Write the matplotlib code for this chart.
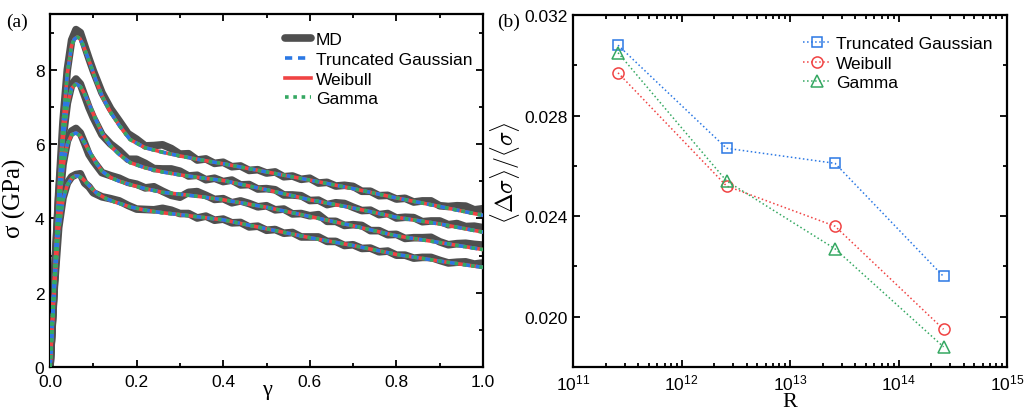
import numpy as np
import matplotlib
matplotlib.use('Agg')
import matplotlib.pyplot as plt
from matplotlib.ticker import MultipleLocator, FormatStrFormatter, LogLocator, NullFormatter

plt.rcParams['font.family'] = ['Liberation Sans', 'DejaVu Sans']
plt.rcParams['mathtext.fontset'] = 'cm'

# ---------------- panel (a) data ----------------
gamma_md = np.round(np.r_[np.arange(0, 0.1, 0.01), np.arange(0.1, 1.001, 0.02)], 3)

md1 = [0, 2.35, 4.65, 6.6, 8.0, 8.8, 9.08, 9.0, 8.65, 8.3,
       7.97, 7.38, 6.95, 6.62, 6.28, 6.13, 5.95, 5.96, 5.98, 5.88, 5.73, 5.74, 5.57, 5.6, 5.48,
       5.51, 5.39, 5.41, 5.29, 5.31, 5.22, 5.25, 5.12, 5.14, 5.05, 5.08, 4.95, 4.97, 4.87, 4.89,
       4.86, 4.73, 4.73, 4.61, 4.62, 4.52, 4.54, 4.44, 4.47, 4.47, 4.34, 4.32, 4.34, 4.33, 4.23, 4.26]
md2 = [0, 2.35, 4.55, 6.15, 7.1, 7.6, 7.75, 7.62, 7.3, 6.98,
       6.71, 6.25, 6.0, 5.82, 5.59, 5.59, 5.48, 5.34, 5.33, 5.33, 5.27, 5.14, 5.16, 5.04, 5.08,
       4.99, 5.03, 4.9, 4.91, 4.79, 4.8, 4.77, 4.63, 4.63, 4.61, 4.48, 4.49, 4.37, 4.42, 4.4,
       4.3, 4.21, 4.22, 4.1, 4.13, 4.01, 4.03, 4.02, 3.91, 3.93, 3.93, 3.83, 3.86, 3.78, 3.79, 3.75]
md3 = [0, 2.25, 4.25, 5.45, 6.08, 6.35, 6.42, 6.3, 6.02, 5.72,
       5.54, 5.23, 5.15, 5.08, 4.97, 4.92, 4.82, 4.85, 4.73, 4.62, 4.57, 4.7, 4.72, 4.62, 4.51,
       4.53, 4.42, 4.47, 4.4, 4.31, 4.34, 4.23, 4.25, 4.12, 4.13, 4.07, 4.1, 3.92, 3.92, 3.81,
       3.83, 3.81, 3.67, 3.67, 3.56, 3.57, 3.46, 3.48, 3.48, 3.49, 3.37, 3.29, 3.32, 3.33, 3.3, 3.28]
md4 = [0, 2.15, 3.75, 4.55, 4.95, 5.12, 5.18, 5.2, 4.95, 4.85,
       4.69, 4.58, 4.53, 4.47, 4.35, 4.25, 4.24, 4.23, 4.27, 4.22, 4.13, 4.13, 4.01, 4.06, 3.95,
       3.98, 3.88, 3.89, 3.77, 3.79, 3.68, 3.7, 3.6, 3.62, 3.5, 3.5, 3.5, 3.38, 3.38, 3.27,
       3.29, 3.19, 3.2, 3.1, 3.12, 3.01, 3.01, 2.93, 2.95, 2.95, 2.87, 2.8, 2.82, 2.83, 2.77, 2.8]

fit1_x = [0, .01, .02, .03, .04, .05, .056, .063, .069, .075, .09, .105, .12, .14, .16, .185,
          .22, .26, .3, .35, .4, .5, .6, .7, .8, .9, 1.0]
fit1_y = [0, 2.3, 4.6, 6.5, 7.9, 8.65, 8.82, 8.88, 8.84, 8.7, 8.25, 7.75, 7.3, 6.85, 6.5, 6.12,
          5.9, 5.78, 5.68, 5.57, 5.47, 5.25, 5.03, 4.8, 4.55, 4.32, 4.08]
fit23_x = [0, .01, .02, .03, .04, .05, .06, .07, .08, .09, .105, .12, .14, .16, .185, .22, .26,
           .3, .35, .4, .5, .6, .7, .8, .9, 1.0]
fit2_y = [0, 2.3, 4.5, 6.1, 7.05, 7.5, 7.62, 7.55, 7.35, 7.08, 6.68, 6.3, 5.95, 5.72, 5.5, 5.36,
          5.25, 5.17, 5.09, 5.02, 4.77, 4.5, 4.28, 4.03, 3.85, 3.63]
fit3_y = [0, 2.2, 4.2, 5.4, 6.0, 6.25, 6.3, 6.22, 6.03, 5.82, 5.52, 5.27, 5.1, 5.0, 4.91, 4.8,
          4.7, 4.65, 4.58, 4.5, 4.3, 4.05, 3.8, 3.53, 3.35, 3.16]
fit4_x = [0, .01, .02, .03, .04, .05, .058, .066, .075, .085, .095, .11, .13, .15, .185, .22,
          .26, .3, .35, .4, .5, .6, .7, .8, .9, 1.0]
fit4_y = [0, 2.1, 3.7, 4.5, 4.9, 5.08, 5.14, 5.14, 5.07, 4.95, 4.82, 4.66, 4.53, 4.44, 4.31,
          4.22, 4.15, 4.1, 4.03, 3.96, 3.72, 3.48, 3.27, 3.03, 2.85, 2.68]

# ---------------- panel (b) data ----------------
R = [2.6e11, 2.6e12, 2.6e13, 2.6e14]
ratio_tg = [0.0308, 0.0267, 0.0261, 0.0216]
ratio_wb = [0.0297, 0.0252, 0.0236, 0.0195]
ratio_gm = [0.0305, 0.0254, 0.0227, 0.0188]

labels = ['Truncated Gaussian', 'Weibull', 'Gamma']
c_blue, c_red, c_green, c_md = '#2b78e4', '#f04343', '#35a862', '#4f4f4f'

FS = 12.5
SERIF = ['Liberation Serif', 'DejaVu Serif']

fig = plt.figure(figsize=(10.24, 4.10), dpi=100)
ax1 = fig.add_axes([50 / 1024, 42 / 410, 433 / 1024, 353 / 410])
ax2 = fig.add_axes([573 / 1024, 42 / 410, 434 / 1024, 352 / 410])

# ---- (a)
md_sets = [md1, md2, md3, md4]
fits = [(fit1_x, fit1_y), (fit23_x, fit2_y), (fit23_x, fit3_y), (fit4_x, fit4_y)]
for k, md in enumerate(md_sets):
    ax1.plot(gamma_md, md, color=c_md, lw=5.5, solid_capstyle='round', solid_joinstyle='round',
             zorder=2, label='MD' if k == 0 else None)
for k, (fx, fy) in enumerate(fits):
    ax1.plot(fx, fy, color=c_red, lw=2.6, ls='-', zorder=3, label='Weibull' if k == 0 else None)
    ax1.plot(fx, fy, color=c_blue, lw=2.6, ls=(0, (2.0, 1.6)), zorder=4,
             label='Truncated Gaussian' if k == 0 else None)
    ax1.plot(fx, fy, color=c_green, lw=2.6, ls=(0, (1.0, 1.3)), zorder=5,
             label='Gamma' if k == 0 else None)

ax1.set_xlim(0, 1.0)
ax1.set_ylim(0, 9.5)
ax1.xaxis.set_major_locator(MultipleLocator(0.2))
ax1.xaxis.set_minor_locator(MultipleLocator(0.1))
ax1.xaxis.set_major_formatter(FormatStrFormatter('%.1f'))
ax1.yaxis.set_major_locator(MultipleLocator(2))
ax1.yaxis.set_minor_locator(MultipleLocator(1))
ax1.set_xlabel('γ', family=SERIF, fontsize=16)
ax1.set_ylabel('σ (GPa)', family=SERIF, fontsize=18)
ax1.xaxis.set_label_coords(0.5, -0.037)
ax1.yaxis.set_label_coords(-0.055, 0.48)

h, l = ax1.get_legend_handles_labels()
order = [l.index(s) for s in ['MD', 'Truncated Gaussian', 'Weibull', 'Gamma']]
ax1.legend([h[i] for i in order], [l[i] for i in order], loc='upper right',
           bbox_to_anchor=(1.0, 0.978), frameon=False, fontsize=FS, handlelength=1.5,
           handletextpad=0.3, labelspacing=0.26, borderaxespad=0.2)

# ---- (b)
ax2.plot(R, ratio_tg, ls=':', lw=1.1, color=c_blue, marker='s', ms=7, mfc='none', mec=c_blue,
         mew=1.1, label=labels[0])
ax2.plot(R, ratio_wb, ls=':', lw=1.1, color=c_red, marker='o', ms=8, mfc='none', mec=c_red,
         mew=1.1, label=labels[1])
ax2.plot(R, ratio_gm, ls=':', lw=1.1, color=c_green, marker='^', ms=8.5, mfc='none', mec=c_green,
         mew=1.1, label=labels[2])
ax2.set_xscale('log')
ax2.set_xlim(1e11, 1e15)
ax2.set_ylim(0.018, 0.032)
ax2.yaxis.set_major_locator(MultipleLocator(0.004))
ax2.yaxis.set_minor_locator(MultipleLocator(0.002))
ax2.yaxis.set_major_formatter(FormatStrFormatter('%.3f'))
ax2.xaxis.set_major_locator(LogLocator(base=10, numticks=10))
ax2.xaxis.set_minor_locator(LogLocator(base=10, subs=np.arange(2, 10), numticks=20))
ax2.xaxis.set_minor_formatter(NullFormatter())
ax2.set_xlabel('R', family=SERIF, fontsize=16)
ax2.set_ylabel(r'$\langle\Delta\sigma\rangle/\langle\sigma\rangle$', fontsize=17)
ax2.xaxis.set_label_coords(0.5, -0.071)
ax2.yaxis.set_label_coords(-0.118, 0.555)
ax2.legend(loc='upper right', bbox_to_anchor=(0.99, 0.97), frameon=False, fontsize=FS,
           handlelength=1.6, handletextpad=0.3, labelspacing=0.25, borderaxespad=0.2)

for ax in (ax1, ax2):
    for s in ax.spines.values():
        s.set_linewidth(1.6)
    ax.tick_params(which='both', direction='in', top=True, right=True, labelsize=FS, width=1.3)
    ax.tick_params(which='major', length=5, pad=4)
    ax.tick_params(which='minor', length=3)
ax1.tick_params(axis='x', which='major', pad=5)

fig.text(6 / 1024, 1 - 22 / 410, '(a)', family=SERIF, fontsize=14, va='center', ha='left')
fig.text(497 / 1024, 1 - 22 / 410, '(b)', family=SERIF, fontsize=14, va='center', ha='left')

fig.savefig('out.png', dpi=100)
